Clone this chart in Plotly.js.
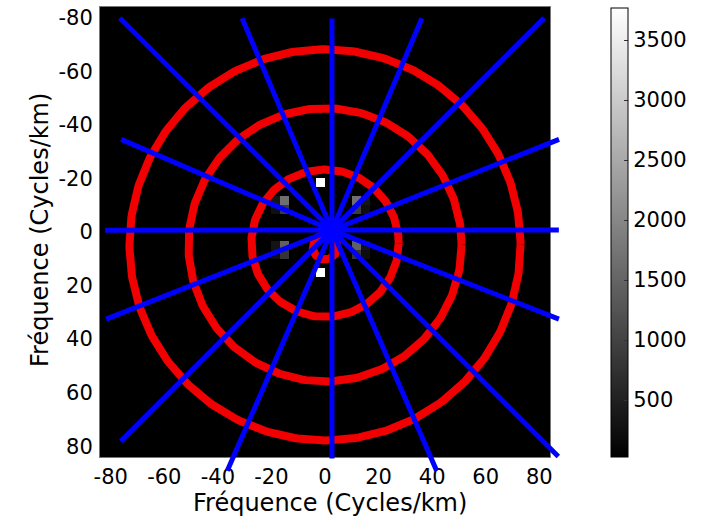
<!DOCTYPE html>
<html><head><meta charset="utf-8">
<script src="https://cdn.plot.ly/plotly-3.0.1.min.js"></script>
<style>html,body{margin:0;padding:0;background:#fff}#chart{width:704px;height:525px}</style>
</head><body><div id="chart"></div>
<script>
// ---- grid of the spectrum (cycles/km) ----
const gridStart = -84;      // lower edge of first cell
const gridStep = 3.36;      // cell size
const gridCount = 50;       // cells per side
const backgroundPower = 25; // level of the empty cells

// ---- non-empty spectral cells (cell-centre frequencies) ----
const cellFx    = [-1.68, -1.68, -15.12, -15.12, -18.48, -18.48, 11.76, 11.76, 15.12, 15.12, -15.12, -15.12, -18.48, -18.48, 11.76, 11.76, 15.12, 15.12];
const cellFy    = [-18.48, 15.12, -11.76, -8.40, -11.76, -8.40, -11.76, -8.40, -11.76, -8.40, 5.04, 8.40, 5.04, 8.40, 5.04, 8.40, 5.04, 8.40];
const cellPower = [3767, 3767, 1650, 900, 350, 250, 1650, 900, 350, 250, 1450, 800, 320, 230, 1450, 800, 320, 230];

// ---- red circles ----
const ringCx = [0, 0, 0, 0];
const ringCy = [5.7, 4.2, 4.8, 4.8];
const ringR  = [4.6, 27.5, 51, 73];

// ---- blue spokes (from a common centre) ----
const spokeCx = 2.6, spokeCy = -0.7;
const spokeAngle  = [0, 180, 270, 90, 225, 45, 315, 135, 247, 66.5, 293, 113.5, 203.3, 21.4, 158.5, 338.2];
const spokeLength = [84.7, 84.7, 79, 85.3, 112, 119.5, 112, 111.5, 85.9, 98, 85.9, 98, 85.7, 91, 90.6, 91.3];

// ---- colour bar ticks ----
const cbTicks = [500, 1000, 1500, 2000, 2500, 3000, 3500];
const zMin = 25, zMax = 3767;

const axisTitle = 'Fréquence (Cycles/km)';
const axisTicks = [-80, -60, -40, -20, 0, 20, 40, 60, 80];
const axisTickText = ['-80', '-60', '-40', '-20', '0', '20', '40', '60', '80'];

// build the heatmap table
const centers = [];
for (let k = 0; k < gridCount; k++) centers.push(gridStart + gridStep * (k + 0.5));
const z = [];
for (let j = 0; j < gridCount; j++) { const row = []; for (let i = 0; i < gridCount; i++) row.push(backgroundPower); z.push(row); }
for (let n = 0; n < cellPower.length; n++) {
  const i = Math.round((cellFx[n] - gridStart) / gridStep - 0.5);
  const j = Math.round((cellFy[n] - gridStart) / gridStep - 0.5);
  z[j][i] = cellPower[n];
}
const gridEnd = gridStart + gridStep * gridCount;

// layout geometry (pixels)
const W = 704, H = 525;
const mL = 100, mT = 7, paperW = 470, paperH = 473;
const plotW = 450, plotH = 450;
const px = v => (v - mL) / paperW;            // pixel x -> paper fraction
const py = v => (mT + paperH - v) / paperH;   // pixel y -> paper fraction

const FAM = 'DejaVu Sans, Liberation Sans, Arial, sans-serif';
const tickFont = {family: FAM, size: 21, color: '#000'};
const titleFont = {family: FAM, size: 24, color: '#000'};

const traces = [];
traces.push({
  type: 'heatmap', x: centers, y: centers, z: z, zmin: zMin, zmax: zMax, zsmooth: false,
  colorscale: [[0, '#000000'], [1, '#ffffff']], hoverinfo: 'skip',
  colorbar: {
    x: px(611), xanchor: 'left', xpad: 0, ypad: 0,
    y: py(232.5), yanchor: 'middle',
    len: 449, lenmode: 'pixels', thickness: 17, thicknessmode: 'pixels',
    outlinewidth: 1, outlinecolor: '#000',
    tickvals: cbTicks, ticks: 'inside', ticklen: 4, tickcolor: '#333',
    tickfont: tickFont
  }
});
ringR.forEach((r, k) => {
  const xs = [], ys = [];
  for (let a = 0; a <= 360; a += 1) {
    xs.push(ringCx[k] + r * Math.cos(a * Math.PI / 180));
    ys.push(ringCy[k] + r * Math.sin(a * Math.PI / 180));
  }
  traces.push({type: 'scatter', mode: 'lines', x: xs, y: ys, line: {color: '#f00000', width: 8}, hoverinfo: 'skip', showlegend: false});
});
const sx = [], sy = [];
spokeAngle.forEach((a, k) => {
  sx.push(spokeCx, spokeCx + spokeLength[k] * Math.cos(a * Math.PI / 180), null);
  sy.push(spokeCy, spokeCy + spokeLength[k] * Math.sin(a * Math.PI / 180), null);
});
traces.push({type: 'scatter', mode: 'lines', x: sx, y: sy, xaxis: 'x2', yaxis: 'y2',
  line: {color: '#0000ff', width: 5}, hoverinfo: 'skip', showlegend: false});

const layout = {
  width: W, height: H,
  margin: {l: mL, t: mT, r: W - mL - paperW, b: H - mT - paperH, pad: 0},
  paper_bgcolor: '#fff', plot_bgcolor: 'rgba(0,0,0,0)',
  showlegend: false,
  font: tickFont,
  xaxis: {
    domain: [0, plotW / paperW], range: [gridStart, gridEnd], anchor: 'y',
    tickvals: axisTicks, ticktext: axisTickText, ticks: '', ticklen: 0, showgrid: false, zeroline: false,
    showline: true, mirror: true, linecolor: '#777', linewidth: 1,
    ticklabelstandoff: 1, tickfont: tickFont, automargin: false
  },
  yaxis: {
    domain: [1 - plotH / paperH, 1], range: [gridEnd, gridStart], anchor: 'x',
    tickvals: axisTicks, ticktext: axisTickText, ticks: '', ticklen: 0, showgrid: false, zeroline: false,
    showline: true, mirror: true, linecolor: '#777', linewidth: 1,
    ticklabelstandoff: 2, tickfont: tickFont, automargin: false
  },
  xaxis2: {
    anchor: 'y2', domain: [0, 1], visible: false, showgrid: false, zeroline: false,
    range: [gridStart, gridStart + (gridEnd - gridStart) * paperW / plotW]
  },
  yaxis2: {
    anchor: 'x2', domain: [0, 1], visible: false, showgrid: false, zeroline: false,
    range: [gridStart + (gridEnd - gridStart) * paperH / plotH, gridStart]
  },
  annotations: [
    {text: axisTitle, xref: 'paper', yref: 'paper', x: px(330), y: py(503), xanchor: 'center', yanchor: 'middle', showarrow: false, font: titleFont},
    {text: axisTitle, xref: 'paper', yref: 'paper', x: px(40), y: py(230), xanchor: 'center', yanchor: 'middle', textangle: -90, showarrow: false, font: titleFont}
  ]
};
Plotly.newPlot('chart', traces, layout, {staticPlot: true, displayModeBar: false});
</script></body></html>
